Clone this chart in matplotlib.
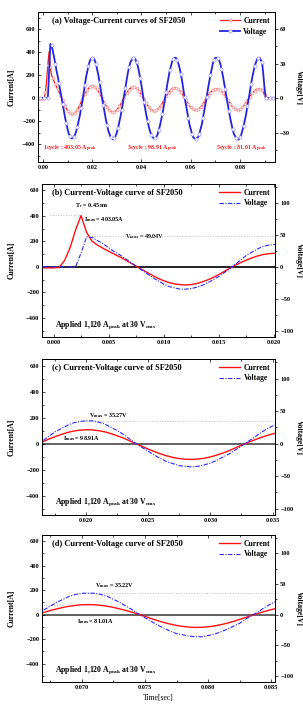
import matplotlib
matplotlib.use('Agg')
import matplotlib.pyplot as plt
import numpy as np
from matplotlib.ticker import MultipleLocator, FormatStrFormatter

plt.rcParams['font.family'] = ['Liberation Serif', 'DejaVu Serif']
plt.rcParams['font.weight'] = 'bold'
plt.rcParams['mathtext.fontset'] = 'custom'
plt.rcParams['mathtext.rm'] = 'Liberation Serif:bold'
plt.rcParams['mathtext.it'] = 'Liberation Serif:italic:bold'
plt.rcParams['mathtext.bf'] = 'Liberation Serif:bold'

# --- measured waveform of SF2050 (sampled every 0.5 ms, starting at -1 ms) ---
t_start = -0.001
t_step = 0.0005

current_A = [
    -8, -8,                                                  # -1.0 ms
    -8, -5, 50, 150, 290, 402, 270, 200, 170, 145,           # 0 ms
    122, 100, 78, 55, 30, 5, -21, -46, -69, -91,             # 5 ms
    -109, -124, -134, -140, -142, -139, -131, -118, -102, -83,
    -60, -36, -10, 13, 34, 53, 70, 85, 96, 103,              # 15 ms
    106, 105, 99, 90, 76, 60, 42, 21, 0, -22,
    -43, -62, -80, -95, -107, -116, -121, -122, -119, -113,  # 25 ms
    -103, -89, -73, -55, -34, -13, 8, 26, 44, 60,
    74, 85, 92, 96, 97, 93, 86, 76, 63, 47,                  # 35 ms
    30, 11, -8, -28, -46, -64, -79, -92, -102, -109,
    -112, -111, -108, -100, -90, -76, -61, -43, -24, -4,     # 45 ms
    14, 31, 47, 61, 73, 82, 87, 90, 89, 84,
    77, 66, 53, 38, 21, 4, -15, -33, -51, -67,               # 55 ms
    -80, -91, -99, -104, -106, -104, -99, -91, -80, -67,
    -51, -33, -15, 3, 19, 34, 47, 59, 69, 76,                # 65 ms
    81, 82, 81, 76, 69, 59, 47, 34, 19, 3,
    -14, -32, -49, -64, -77, -88, -96, -102, -104, -103,     # 75 ms
    -99, -92, -82, -70, -55, -39, -22, -4, 12, 27,
    41, 53, 64, 72, 77, 80, 79, 76, 70, 50,                  # 85 ms
    25, 0, 0, 0, 0, 0, 0, 0, 0,
]

voltage_V = [
    0, 0,
    0, 0, 0, 0, 0, 22, 47, 46, 41, 36,
    30, 24, 19, 13, 7, 1, -5, -11, -17, -22,
    -27, -31, -33, -35, -35, -34, -32, -29, -25, -20,
    -15, -9, -3, 4, 11, 18, 23, 28, 32, 34,
    35, 35, 33, 30, 25, 20, 14, 7, 0, -6,
    -12, -18, -23, -28, -31, -34, -35, -36, -35, -33,
    -30, -26, -21, -16, -10, -4, 3, 9, 16, 22,
    27, 31, 33, 35, 35, 34, 31, 28, 23, 17,
    11, 4, -3, -9, -15, -20, -25, -29, -32, -34,
    -35, -35, -34, -32, -28, -24, -19, -14, -8, -1,
    5, 12, 18, 24, 28, 32, 34, 35, 35, 33,
    30, 26, 21, 15, 8, 1, -5, -11, -17, -23,
    -27, -31, -34, -35, -36, -35, -34, -31, -27, -23,
    -17, -11, -5, 1, 8, 14, 20, 25, 30, 33,
    35, 35, 35, 33, 30, 25, 20, 14, 8, 1,
    -5, -11, -17, -22, -27, -31, -33, -35, -36, -36,
    -34, -32, -28, -24, -19, -14, -7, -1, 5, 12,
    18, 23, 28, 31, 34, 35, 35, 33, 31, 20,
    8, 0, 0, 0, 0, 0, 0, 0, 0,
]

t = t_start + t_step * np.arange(len(current_A))
cur = np.array(current_A, dtype=float)
vol = np.array(voltage_V, dtype=float)

cycle_labels = ['1cycle : 403.05 A$_{\\rm peak}$', '3cycle : 98.91 A$_{\\rm peak}$',
                '5cycle : 81.01 A$_{\\rm peak}$']

RED = '#f41c1c'
BLUE = '#2424e0'
FS_TICK = 4.6
FS_TXT = 5.5
FS_TITLE = 6.0

fig = plt.figure(figsize=(3.03, 7.10), dpi=100)


def style_axes(ax, ax2, xmaj, xmin, ymaj, ymin, vmaj, vmin):
    ax.xaxis.set_major_locator(MultipleLocator(xmaj))
    ax.xaxis.set_minor_locator(MultipleLocator(xmin))
    ax.yaxis.set_major_locator(MultipleLocator(ymaj))
    ax.yaxis.set_minor_locator(MultipleLocator(ymin))
    ax2.yaxis.set_major_locator(MultipleLocator(vmaj))
    ax2.yaxis.set_minor_locator(MultipleLocator(vmin))
    ax.tick_params(which='both', direction='in', top=True, labelsize=FS_TICK, width=0.5, pad=2)
    ax.tick_params(which='major', length=2.2)
    ax.tick_params(which='minor', length=1.2)
    ax2.tick_params(which='both', direction='out', labelsize=FS_TICK, width=0.5, pad=1.5)
    ax2.tick_params(which='major', length=2.2)
    ax2.tick_params(which='minor', length=1.2)
    for a in (ax, ax2):
        for s in a.spines.values():
            s.set_linewidth(0.7)
    # axis titles placed in figure coordinates, like the original layout
    box = ax.get_position()
    yc = box.y0 + box.height / 2
    fig.text(0.040, yc, 'Current[A]', rotation=90, fontsize=FS_TXT, ha='center', va='center')
    fig.text(0.988, yc, 'Voltage[V]', rotation=-90, fontsize=FS_TXT, ha='center', va='center')


# ---------------- (a) ----------------
ax = fig.add_axes([0.1254, 0.7718, 0.782, 0.2113])
ax2 = ax.twinx()
l1, = ax.plot(t, cur, color=RED, lw=0.9, marker='o', ms=2.0, mfc='white',
              mec='#ff8a8a', mew=0.5, markevery=2, label='Current')
l2, = ax2.plot(t, vol, color=BLUE, lw=1.3, marker='o', ms=2.3, mfc='white',
               mec='#9a9aff', mew=0.5, markevery=3, label='Voltage')
ax.set_xlim(-0.002, 0.0942)
ax.set_ylim(-556, 748)
ax2.set_ylim(-55.6, 74.8)
style_axes(ax, ax2, 0.02, 0.01, 200, 100, 30, 15)
ax.xaxis.set_major_formatter(FormatStrFormatter('%.2f'))
ax.text(0.058, 0.94, '(a) Voltage-Current curves of SF2050', transform=ax.transAxes,
        fontsize=FS_TITLE, va='center', ha='left')
for xpos, lab in zip([0.022, 0.374, 0.751], cycle_labels):
    ax.text(xpos, 0.085, lab, transform=ax.transAxes, fontsize=4.3, color=RED,
            va='center', ha='left')
ax2.legend(handles=[l1, l2], loc='upper right', frameon=False, fontsize=FS_TXT,
           handlelength=2.6, borderaxespad=0.25, labelspacing=0.35, handletextpad=0.4)


def detail_panel(rect, xlim, xmaj, xmin, title, xfmt, zero_col):
    ax = fig.add_axes(rect)
    ax2 = ax.twinx()
    ax.axhline(0, color=zero_col, lw=1.3, zorder=1)
    l1, = ax.plot(t, cur, color='#ff1010', lw=1.0, label='Current', zorder=3)
    l2, = ax2.plot(t, vol, color='#2a2aff', lw=0.8, ls=(0, (4, 1.3, 1, 1.3)),
                   label='Voltage', zorder=3)
    ax.set_xlim(*xlim)
    ax.set_ylim(-550, 650)
    ax2.set_ylim(-110, 130)
    style_axes(ax, ax2, xmaj, xmin, 200, 100, 50, 25)
    ax.xaxis.set_major_formatter(FormatStrFormatter(xfmt))
    ax.text(0.045, 0.94, title, transform=ax.transAxes, fontsize=FS_TITLE,
            va='center', ha='left')
    ax.text(0.056, 0.08, 'Applied 1,120 A$_{\\rm peak}$ at 30 V$_{\\rm rms}$',
            transform=ax.transAxes, fontsize=5.6, va='center', ha='left')
    ax2.legend(handles=[l1, l2], loc='upper right', frameon=False, fontsize=FS_TXT,
               handlelength=2.8, borderaxespad=0.25, labelspacing=0.3, handletextpad=0.4)
    return ax, ax2


DOT = dict(color='#c0c0c0', lw=0.7, ls=':', zorder=0)

# ---------------- (b) ----------------
ax, ax2 = detail_panel([0.1386, 0.5254, 0.769, 0.2155], (-0.00105, 0.0201), 0.005, 0.0025,
                       '(b) Current-Voltage curve of SF2050', '%.3f', '#111111')
ax.plot([-0.0003, 0.0025], [403, 403], **DOT)
ax2.plot([0.0032, 0.0201], [49.04, 49.04], **DOT)
ax.text(0.00197, 478, 'T$_r$ = 0.45 ms', fontsize=4.4, va='center', ha='left')
ax.text(0.00273, 367, 'I$_{\\rm max}$ = 403.05A', fontsize=4.4, va='center', ha='left')
ax.text(0.0065, 240, 'V$_{\\rm max}$ = 49.04V', fontsize=4.4, va='center', ha='left')

# ---------------- (c) ----------------
ax, ax2 = detail_panel([0.1386, 0.2746, 0.769, 0.2197], (0.01645, 0.0352), 0.005, 0.0025,
                       '(c) Current-Voltage curve of SF2050', '%.3f', '#555555')
ax2.plot([0.0197, 0.0352], [35.27, 35.27], **DOT)
ax.text(0.0202, 219, 'V$_{\\rm max}$ = 35.27V', fontsize=4.4, va='center', ha='left')
ax.text(0.01817, 39, 'I$_{\\rm max}$ = 98.91A', fontsize=4.4, va='center', ha='left')

# ---------------- (d) ----------------
ax, ax2 = detail_panel([0.1386, 0.0394, 0.769, 0.207], (0.06684, 0.0853), 0.005, 0.0025,
                       '(d) Current-Voltage curve of SF2050', '%.3f', '#555555')
ax.plot([0.0668, 0.0685], [81, 81], **DOT)
ax2.plot([0.0705, 0.0853], [35.22, 35.22], **DOT)
ax.text(0.07105, 237, 'V$_{\\rm max}$ = 35.22V', fontsize=4.4, va='center', ha='left')
ax.text(0.0696, -55, 'I$_{\\rm max}$ = 81.01A', fontsize=4.4, va='center', ha='left')
ax.set_xlabel('Time[sec]', fontsize=FS_TXT, labelpad=3)

fig.savefig('out.png', dpi=100, facecolor='white')
